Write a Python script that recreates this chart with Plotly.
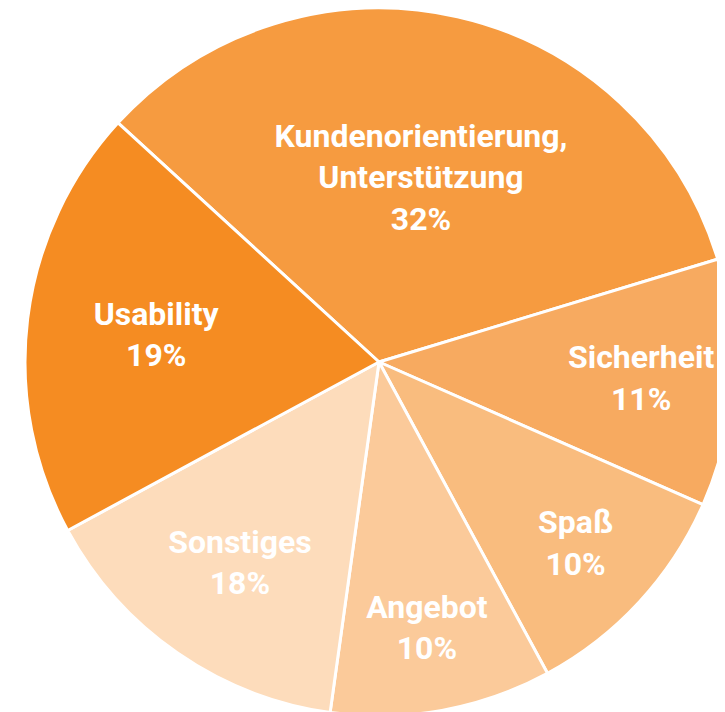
import plotly.graph_objects as go

labels = ["Kundenorientierung,<br>Unterstützung", "Sicherheit", "Spaß", "Angebot", "Sonstiges", "Usability"]
percent_labels = ["32%", "11%", "10%", "10%", "18%", "19%"]
# slice sizes as drawn in the picture (the printed percentages don't match the drawn angles)
shares = [33.5, 11.3, 10.5, 10.1, 14.9, 19.7]
colors = ["#F69B40", "#F7AA60", "#F9BC7E", "#FBCA9A", "#FDDCBB", "#F58C22"]

fig = go.Figure(go.Pie(
    labels=labels,
    values=shares,
    text=[f"{l}<br>{p}" for l, p in zip(labels, percent_labels)],
    textinfo="text",
    textposition="inside",
    insidetextorientation="horizontal",
    sort=False,
    direction="clockwise",
    rotation=-47.5,
    marker=dict(colors=colors, line=dict(color="white", width=3)),
    textfont=dict(family="Roboto", size=32, color="white", weight="bold"),
    hoverinfo="skip",
    showlegend=False,
))

# pie is larger than the window, page body adds 8px offset
fig.update_layout(
    width=742, height=714,
    margin=dict(l=0, r=0, t=0, b=6),
    paper_bgcolor="white",
    plot_bgcolor="white",
)

fig.write_html("out.html")
